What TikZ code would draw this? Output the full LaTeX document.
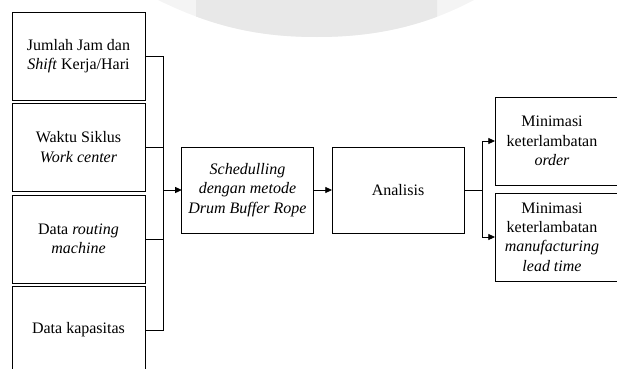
\documentclass[tikz,border=0pt]{standalone}
\usepackage{fontspec}
\setmainfont{Liberation Serif}
\usetikzlibrary{arrows.meta}
\definecolor{wmlight}{HTML}{F4F4F4}
\definecolor{wmdark}{HTML}{E8E8E8}
\tikzset{
  box/.style={draw=black, line width=0.6pt, rectangle, outer sep=0pt, inner sep=2pt, align=center,
    font=\fontsize{12}{14.5}\selectfont},
  lbox/.style={box, minimum width=99.75pt, minimum height=66pt},
  mbox/.style={box, minimum width=98.5pt, minimum height=64.5pt},
  rbox/.style={box, minimum width=105pt, minimum height=66pt, anchor=west},
  txt/.style={align=center, inner sep=0pt, font=\fontsize{12}{14.5}\selectfont},
  conn/.style={draw=black, line width=0.6pt},
  arr/.style={conn, -{Triangle[length=5pt,width=4.5pt]}}
}
\begin{document}
\begin{tikzpicture}[x=0.75pt, y=-0.75pt]
\useasboundingbox (0,0) rectangle (617,368);
\clip (0,0) rectangle (617,368);
% watermark
\path[fill=wmlight] (158,0) .. controls (215,28) and (262,37) .. (317,37) .. controls (375,37) and (425,26) .. (474,0) -- cycle;
\begin{scope}
\clip (196,0) rectangle (437,40);
\path[fill=wmdark] (158,0) .. controls (215,28) and (262,37) .. (317,37) .. controls (375,37) and (425,26) .. (474,0) -- cycle;
\end{scope}
% left inputs
\node[lbox] (b1) at (78.5,56) {Jumlah Jam dan\\\textit{Shift} Kerja/Hari};
\node[lbox] (b2) at (78.5,147) {Waktu Siklus\\\textit{Work center}};
\node[lbox] (b3) at (78.5,239) {Data \textit{routing}\\\textit{machine}};
\node[lbox] (b4) at (78.5,330) {Data kapasitas};
% middle
\node[mbox] (sched) at (247.5,190) {\textit{Schedulling}\\\textit{dengan metode}\\\textit{Drum Buffer Rope}};
\node[mbox, minimum width=99pt] (ana) at (398,190) {Analisis};
% right outputs
\node[rbox] (resA) at (495,141) {};
\node[rbox] (resB) at (495,237) {};
\node[txt] (tA) at (552,141) {Minimasi\\keterlambatan\\\textit{order}};
\node[txt] (tB) at (552,237) {Minimasi\\keterlambatan\\\textit{manufacturing}\\\textit{lead time}};
% connectors
\coordinate (jl) at (163,190);
\coordinate (jr) at (482,190);
\draw[conn] (b1.east) -| (jl);
\draw[conn] (b4.east) -| (jl);
\draw[conn] (b2.east) -- (b2.east -| jl);
\draw[conn] (b3.east) -- (b3.east -| jl);
\draw[arr] (jl) -- (sched.west);
\draw[arr] (sched.east) -- (ana.west);
\draw[conn] (ana.east) -- (jr);
\draw[arr] (jr) |- (resA.west);
\draw[arr] (jr) |- (resB.west);
\end{tikzpicture}
\end{document}
